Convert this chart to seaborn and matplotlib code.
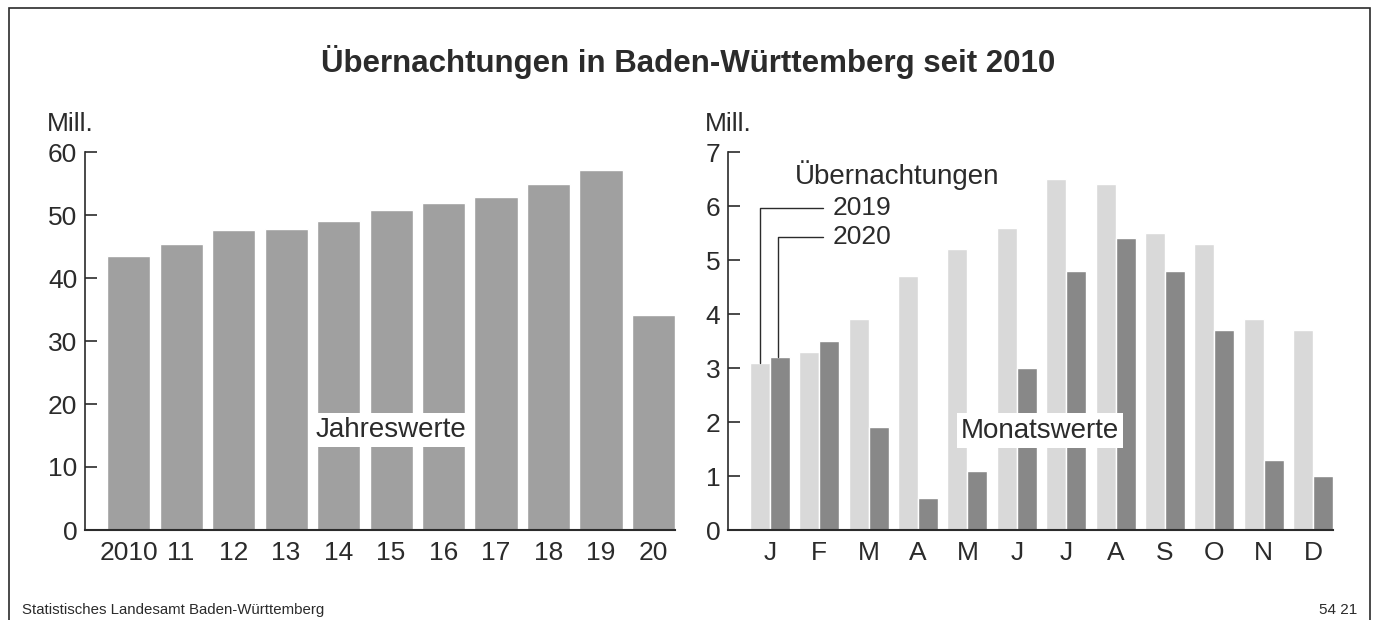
import pandas as pd
import matplotlib
matplotlib.use("Agg")
import matplotlib.pyplot as plt
import seaborn as sns
from matplotlib.patches import Rectangle

# Jahreswerte (Mill.)
jahre = ["2010", "11", "12", "13", "14", "15", "16", "17", "18", "19", "20"]
jahreswerte = [43.5, 45.4, 47.6, 47.8, 49.1, 50.8, 51.9, 52.9, 54.9, 57.2, 34.2]

# Monatswerte (Mill.)
monate = ["J", "F", "M", "A", "M", "J", "J", "A", "S", "O", "N", "D"]
werte_2019 = [3.1, 3.3, 3.9, 4.7, 5.2, 5.6, 6.5, 6.4, 5.5, 5.3, 3.9, 3.7]
werte_2020 = [3.2, 3.5, 1.9, 0.6, 1.1, 3.0, 4.8, 5.4, 4.8, 3.7, 1.3, 1.0]

farben = {"2019": "#d9d9d9", "2020": "#888888"}
grau_jahr = "#a0a0a0"
dunkel = "#2b2b2b"

sns.set_theme(style="white")
plt.rcParams['font.family'] = ['Liberation Sans', 'DejaVu Sans']
plt.rcParams['text.color'] = dunkel

fig = plt.figure(figsize=(13.76, 6.2), dpi=100)
W, H = 1376, 620

# Rahmen
fig.patches.append(Rectangle((9 / W, -0.02), (1370 - 9) / W, 1 - 8 / H + 0.02,
                             transform=fig.transFigure, fill=False,
                             edgecolor=dunkel, linewidth=1.2))

ax1 = fig.add_axes([85 / W, 1 - 530 / H, (675 - 85) / W, (530 - 152) / H])
ax2 = fig.add_axes([728 / W, 1 - 530 / H, (1333 - 728) / W, (530 - 152) / H])

# --- JAHRESWERTE ---
df_jahr = pd.DataFrame({"jahr": jahre, "wert": jahreswerte})
sns.barplot(data=df_jahr, x="jahr", y="wert", color=grau_jahr, width=0.82,
            saturation=1, ax=ax1)
ax1.set_xlim(-0.83, len(jahre) - 1 + 0.41)
ax1.set_ylim(0, 60)
ax1.set_yticks(range(0, 61, 10))

# --- MONATSWERTE ---
df_monat = pd.DataFrame({
    "monat_nr": list(range(12)) * 2,
    "wert": werte_2019 + werte_2020,
    "jahr": ["2019"] * 12 + ["2020"] * 12,
})
sns.barplot(data=df_monat, x="monat_nr", y="wert", hue="jahr", palette=farben,
            width=0.81, saturation=1, legend=False, ax=ax2)
ax2.set_xticks(range(12))
ax2.set_xticklabels(monate)
ax2.set_xlim(-0.85, 11.405)
ax2.set_ylim(0, 7)
ax2.set_yticks(range(0, 8))

for ax in (ax1, ax2):
    ax.set_xlabel("")
    ax.set_ylabel("")
    sns.despine(ax=ax)
    for s in ("left", "bottom"):
        ax.spines[s].set_color(dunkel)
        ax.spines[s].set_linewidth(1.2)
    ax.spines["bottom"].set_linewidth(1.5)
    ax.tick_params(axis="y", direction="in", length=8.5, width=1.2,
                   color=dunkel, pad=5.5, labelsize=19, labelcolor=dunkel, left=True)
    ax.tick_params(axis="x", length=0, pad=8, labelsize=19, labelcolor=dunkel)
    ax.set_facecolor("none")

# Mill.-Beschriftungen
fig.text(47 / W, 1 - 124 / H, "Mill.", fontsize=19, ha="left", va="center")
fig.text(705 / W, 1 - 124 / H, "Mill.", fontsize=19, ha="left", va="center")

# Inline-Beschriftungen mit weissem Hintergrund
ax1.text(5, 15.9, "Jahreswerte", fontsize=20, ha="center", va="center",
         bbox=dict(facecolor="white", edgecolor="none", pad=3))
ax2.text(5.47, 1.84, "Monatswerte", fontsize=20, ha="center", va="center",
         bbox=dict(facecolor="white", edgecolor="none", pad=3))

# Legende als Führungslinien
p19 = ax2.patches[0]
p20 = ax2.patches[12]
x19 = p19.get_x() + p19.get_width() / 2
x20 = p20.get_x() + p20.get_width() * 0.4
x_end = 1.07
ax2.plot([x19, x19, x_end], [p19.get_height(), 5.96, 5.96], color=dunkel, lw=1.0)
ax2.plot([x20, x20, x_end], [p20.get_height(), 5.43, 5.43], color=dunkel, lw=1.0)
ax2.text(x_end + 0.2, 5.96, "2019", fontsize=19, ha="left", va="center")
ax2.text(x_end + 0.2, 5.43, "2020", fontsize=19, ha="left", va="center")
ax2.text(0.5, 6.57, "Übernachtungen", fontsize=20, ha="left", va="center")

# Titel und Fusszeile
fig.text(0.5, 1 - 62 / H, "Übernachtungen in Baden-Württemberg seit 2010",
         fontsize=22.5, fontweight="bold", ha="center", va="center")
fig.text(22 / W, 1 - 610 / H, "Statistisches Landesamt Baden-Württemberg",
         fontsize=10.8, ha="left", va="center")
fig.text(1357 / W, 1 - 610 / H, "54 21", fontsize=11, ha="right", va="center")

fig.savefig("out.png", dpi=100)
